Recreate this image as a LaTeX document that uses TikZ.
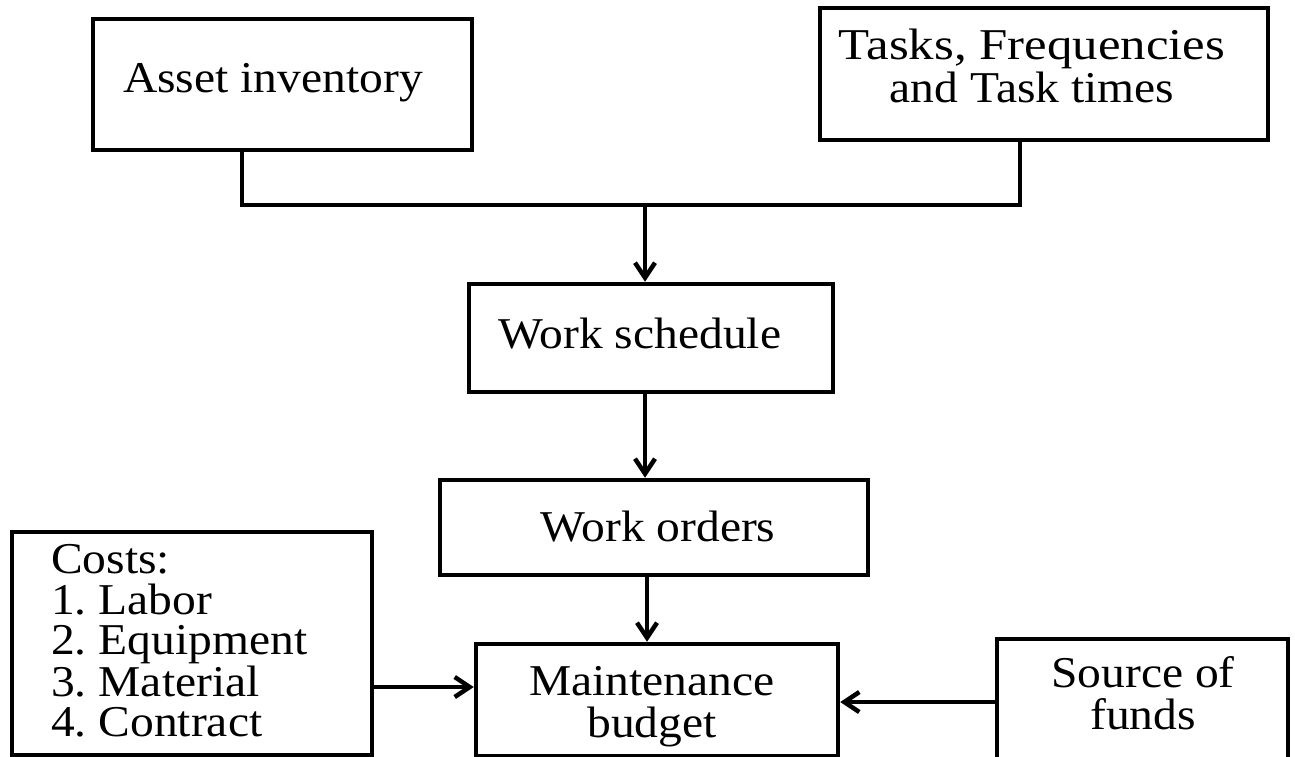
\documentclass[tikz,border=0pt]{standalone}
\usepackage{fontspec}
\setmainfont{Liberation Serif}[FakeStretch=1.08]
\usetikzlibrary{arrows.meta}
\frenchspacing
\tikzset{
  box/.style={draw, line width=4.5pt, inner sep=0pt, rectangle},
  lbl/.style={inner sep=0pt, font=\fontsize{44}{40}\selectfont},
  flow/.style={line width=4.5pt},
  arr/.style={flow, -{Straight Barb[length=15pt,width=20pt]}}
}
\begin{document}
\begin{tikzpicture}[x=1pt, y=-1pt]
  \useasboundingbox (0,0) rectangle (1295,757);
  \clip (0,0) rectangle (1295,757);

  % boxes
  \node[box, minimum width=379pt, minimum height=131pt] (asset)  at (282.5,84.5) {};
  \node[box, minimum width=448pt, minimum height=132pt] (tasks)  at (1044,74) {};
  \node[box, minimum width=364pt, minimum height=108pt] (sched)  at (651,338) {};
  \node[box, minimum width=428pt, minimum height=95pt]  (orders) at (654,527.5) {};
  \node[box, minimum width=362pt, minimum height=112pt] (maint)  at (657,700) {};
  \node[box, minimum width=360pt, minimum height=223pt] (costs)  at (192,643.5) {};
  \node[box, minimum width=291pt, minimum height=161pt] (source) at (1142.5,719.5) {};

  % labels
  \node[lbl, anchor=base west] (assetT) at (123,93) {Asset inventory};
  \node[lbl, anchor=base] (tasksT) at (1032,60)
    {\begin{tabular}[t]{@{}c@{}}\scalebox{1.07}[1]{Tasks, Frequencies}\\and Task times\end{tabular}};
  \node[lbl, anchor=base] (schedT) at (640,348) {Work schedule};
  \node[lbl, anchor=base] (ordersT) at (658,541) {Work orders};
  \node[lbl, anchor=base] (maintT) at (652,695)
    {\begin{tabular}[t]{@{}c@{}}Maintenance\\budget\end{tabular}};
  \node[lbl, anchor=base] (sourceT) at (1143,687)
    {\begin{tabular}[t]{@{}c@{}}Source of\\funds\end{tabular}};
  \node[lbl, anchor=base west, font=\fontsize{44}{37}\selectfont] (costsT) at (51,573)
    {\begin{tabular}[t]{@{}l@{}}Costs:\\1. Labor\\2. Equipment\\3. Material\\4. Contract\end{tabular}};

  % routing points
  \coordinate (jl) at (242,205);
  \coordinate (jr) at (1020,205);
  \coordinate (jm) at (645,205);
  \coordinate (xo) at (647,600);
  \coordinate (ya) at (0,687);
  \coordinate (yb) at (0,702);

  % connectors
  \draw[flow] (asset.south -| jl) -- (jl) -- (jr) -- (tasks.south -| jr);
  \draw[arr] (jm) -- (sched.north -| jm);
  \draw[arr] (sched.south -| jm) -- (orders.north -| jm);
  \draw[arr] (orders.south -| xo) -- (maint.north -| xo);
  \draw[arr] (costs.east |- ya) -- (maint.west |- ya);
  \draw[arr] (source.west |- yb) -- (maint.east |- yb);
\end{tikzpicture}
\end{document}
